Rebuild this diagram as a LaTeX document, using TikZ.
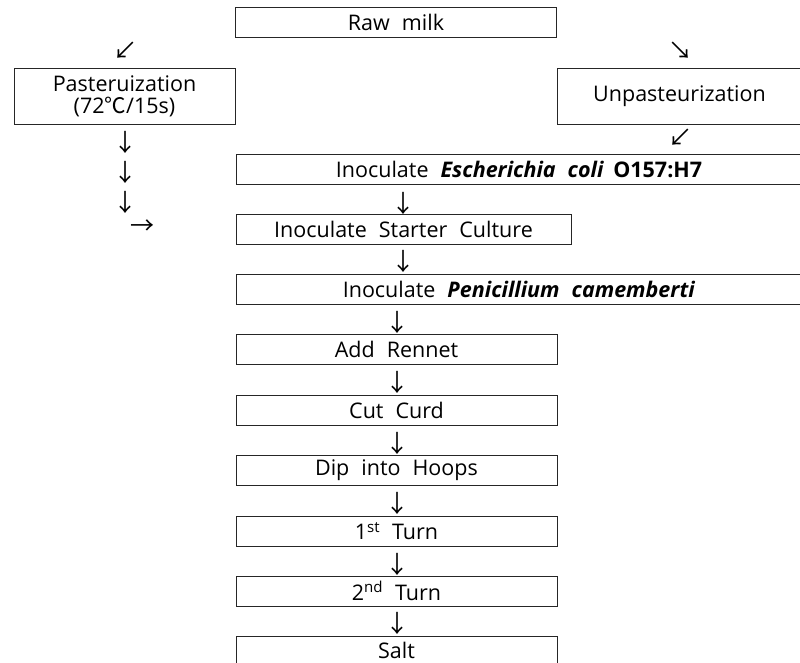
\documentclass[tikz,border=0pt]{standalone}
\usepackage{fontspec}
\setmainfont[WordSpace=2.15]{Open Sans}
\newfontfamily\cjkfont{Noto Sans CJK KR}
\newfontfamily\arrowfont{Noto Sans CJK KR}
\begin{document}
\begin{tikzpicture}[x=1pt,y=-1pt,
  box/.style={draw=black!85, line width=0.8pt, rectangle, inner sep=0pt,
    minimum height=30pt, font=\fontsize{21.5}{24}\selectfont, text=black},
  tallbox/.style={box, minimum height=56pt},
  glyph/.style={inner sep=0pt, font=\arrowfont\fontsize{24}{24}\selectfont}]
\useasboundingbox (0,0) rectangle (800,663);
% boxes
\node[box, minimum width=321pt] (raw) at (396,22.5) {Raw milk};
\node[tallbox, minimum width=221pt, align=center] (past) at (124.5,96)
  {Pasteruization\\[-2pt](72{\cjkfont ℃}/15s)};
\node[tallbox, minimum width=245pt] (unp) at (679.5,96) {Unpasteurization};
\node[box, minimum width=566pt] (ecoli) at (519,169)
  {Inoculate \textbf{\textit{Escherichia coli}}\hspace{-0.12em} \textbf{O157:H7}};
\node[box, minimum width=335pt] (starter) at (403.5,229) {Inoculate Starter Culture};
\node[box, minimum width=566pt] (penic) at (519,289)
  {Inoculate \textbf{\textit{Penicillium camemberti}}};
\node[box, minimum width=321pt] (rennet) at (396.5,349.5) {Add Rennet};
\node[box, minimum width=321pt] (cut) at (396.5,410) {Cut Curd};
\node[box, minimum width=321pt] (dip) at (396.5,470.5) {Dip into Hoops};
\node[box, minimum width=321pt] (t1) at (396.5,531) {1\textsuperscript{st} Turn};
\node[box, minimum width=321pt] (t2) at (396.5,591) {2\textsuperscript{nd} Turn};
\node[box, minimum width=321pt, minimum height=27.5pt] (salt) at (396.5,650) {Salt};
% arrow glyphs
\node[glyph] (a1) at (125,51) {↙};
\node[glyph] (a2) at (680,51) {↘};
\node[glyph] (a3) at (680,138) {↙};
\node[glyph] (l1) at (125,142) {↓};
\node[glyph] (l2) at (125,172) {↓};
\node[glyph] (l3) at (125,202) {↓};
\node[glyph] (l4) at (142,227) {→};
\node[glyph] (c1) at (403,203.5) {↓};
\node[glyph] (c2) at (403,261) {↓};
\node[glyph] (c3) at (397,322) {↓};
\node[glyph] (c4) at (397,382.5) {↓};
\node[glyph] (c5) at (397,443) {↓};
\node[glyph] (c6) at (397,503.5) {↓};
\node[glyph] (c7) at (397,564) {↓};
\node[glyph] (c8) at (397,623.5) {↓};
\end{tikzpicture}
\end{document}
